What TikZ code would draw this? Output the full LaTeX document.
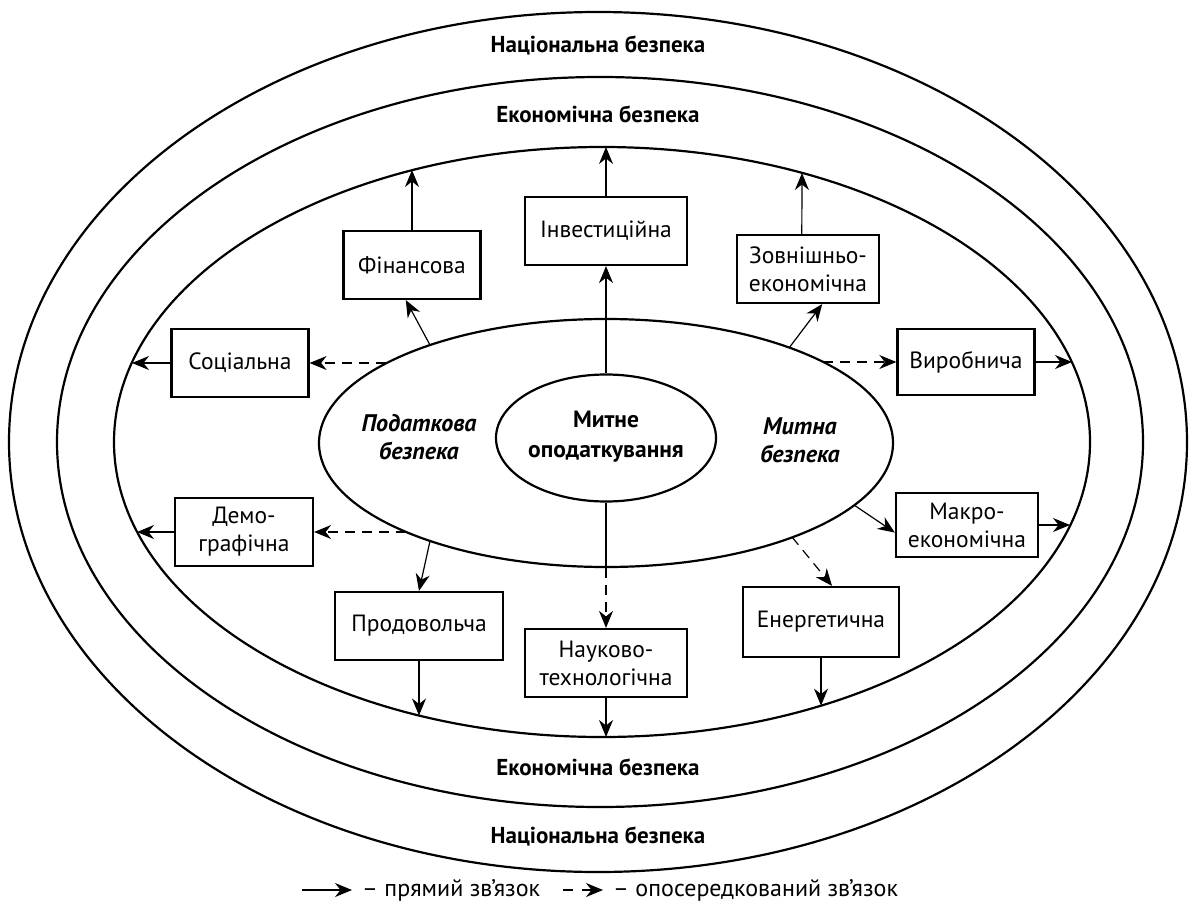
\documentclass[tikz,border=0pt]{standalone}
\usepackage{fontspec}
\setmainfont{PT Sans}
\usetikzlibrary{arrows.meta,shapes.geometric}

\begin{document}
\begin{tikzpicture}[x=1pt,y=-1pt,
  >={Stealth[length=17pt,width=14pt,inset=5.5pt]},
  every node/.style={font=\fontsize{23.5}{28}\selectfont},
  ring/.style={ellipse,draw,line width=2.2pt,inner sep=0pt},
  secbox/.style={draw,line width=2.2pt,minimum width=137,minimum height=68,inner xsep=12pt,align=center},
  arr/.style={->,line width=1.2pt},
  darr/.style={->,line width=1.2pt,dash pattern=on 10pt off 7pt},
  ringlabel/.style={font=\fontsize{23}{28}\selectfont\bfseries,anchor=base},
  zonelabel/.style={font=\fontsize{24}{28}\selectfont\bfseries\itshape,align=center},
  legendtext/.style={anchor=base west,inner sep=0pt,font=\fontsize{24}{28}\selectfont}]
\useasboundingbox (0,0) rectangle (1196,915);

\node (Nat) at (598,442) [ring, minimum width=1178, minimum height=860] {};
\node (Eco) at (600,442) [ring, minimum width=1086, minimum height=730] {};
\node (Sec) at (602,442) [ring, minimum width=976, minimum height=590] {};
\node (Mid) at (606,443) [ring, minimum width=574, minimum height=248] {};
\node (Core) at (606,438) [ring, minimum width=220, minimum height=127] {};

\node (NatT) at (598,53) [ringlabel] {Національна безпека};
\node (EcoT) at (598,123) [ringlabel] {Економічна безпека};
\node (EcoB) at (598,775) [ringlabel] {Економічна безпека};
\node (NatB) at (598,843) [ringlabel] {Національна безпека};
\node (CoreT) at (606,437) [zonelabel, font=\fontsize{23.5}{30}\selectfont\bfseries] {Митне\\оподаткування};
\node (PodT) at (419,437) [zonelabel] {Податкова\\безпека};
\node (MytT) at (800,440) [zonelabel] {Митна\\безпека};

\node (Fin) at (412,265) [secbox] {Фінансова};
\node (Inv) at (606,231) [secbox, minimum width=162] {Інвестиційна};
\node (Zov) at (808,269) [secbox, minimum width=142] {Зовнішньо-\\економічна};
\node (Soc) at (240,363) [secbox] {Соціальна};
\node (Vyr) at (966,362) [secbox, minimum height=66] {Виробнича};
\node (Dem) at (244,532) [secbox, minimum width=138] {Демо-\\графічна};
\node (Mak) at (967,525) [secbox, minimum width=138, minimum height=64] {Макро-\\економічна};
\node (Prod) at (419,626) [secbox, minimum width=168] {Продовольча};
\node (Nauk) at (606,663) [secbox, minimum width=162] {Науково-\\технологічна};
\node (Energ) at (821,622) [secbox, minimum width=156, minimum height=70] {Енергетична};

\coordinate (m1) at (386,363);
\coordinate (m2) at (430,345);
\coordinate (m3) at (789,348);
\coordinate (m4) at (823,362);
\coordinate (m5) at (854,505);
\coordinate (m6) at (792,537);
\coordinate (m7) at (430,541);
\coordinate (m8) at (406,532);

\coordinate (s1) at (412,170);
\coordinate (s2) at (606,147);
\coordinate (s3) at (802,173);
\coordinate (s4) at (132,363);
\coordinate (s5) at (1072,362);
\coordinate (s6) at (137,532);
\coordinate (s7) at (1070,525);
\coordinate (s8) at (419,715.5);
\coordinate (s9) at (606,737);
\coordinate (s10) at (821,705.6);

\draw [arr] (Core.north) -- (Inv.south);
\draw [line width=1.2pt] (Core.south) -- (Mid.south);
\draw [darr] (Mid.south) -- (Nauk.north);
\draw [darr] (m1) -- (Soc.east);
\draw [arr] (m2) -- (Fin.-100);
\draw [arr] (m3) -- (Zov.-68);
\draw [darr] (m4) -- (Vyr.west);
\draw [arr] (m5) -- (Mak.-174);
\draw [darr] (m6) -- (Energ.73);
\draw [arr] (m7) -- (Prod.north);
\draw [darr] (m8) -- (Dem.east);

\draw [arr] (Fin.north) -- (s1);
\draw [arr] (Inv.north) -- (s2);
\draw [arr] (Zov.100) -- (s3);
\draw [arr] (Soc.west) -- (s4);
\draw [arr] (Vyr.east) -- (s5);
\draw [arr] (Dem.west) -- (s6);
\draw [arr] (Mak.east) -- (s7);
\draw [arr] (Prod.south) -- (s8);
\draw [arr] (Nauk.south) -- (s9);
\draw [arr] (Energ.south) -- (s10);

\coordinate (L1) at (302,890);
\coordinate (L2) at (352,890);
\coordinate (L3) at (563,890);
\coordinate (L4) at (603,890);
\draw [arr] (L1) -- (L2);
\draw [arr, dash pattern=on 10pt off 9pt] (L3) -- (L4);
\node (Lt1) at (362,896) [legendtext] {– прямий зв’язок};
\node (Lt2) at (613,896) [legendtext] {– опосередкований зв’язок};
\end{tikzpicture}
\end{document}
